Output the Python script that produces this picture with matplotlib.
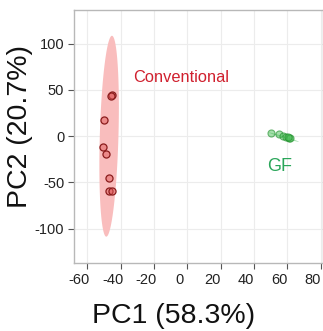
import numpy as np
import matplotlib
matplotlib.use("Agg")
import matplotlib.pyplot as plt
import matplotlib.transforms as mtransforms

plt.rcParams['font.family'] = ['Liberation Sans', 'DejaVu Sans']
plt.rcParams['axes.unicode_minus'] = False

# PCA scores
conv_x = [-45.0, -45.5, -49.8, -50.8, -49.0, -46.8, -46.8, -45.2]
conv_y = [45.0, 43.0, 18.0, -11.6, -19.0, -45.0, -59.0, -59.0]
gf_x = [50.0, 55.0, 57.5, 59.5, 60.8, 61.4, 60.2]
gf_y = [3.6, 2.5, 0.3, -0.4, -1.8, -1.4, -0.8]

# ellipses: two ends of the long axis and half width along x
conv_top = (-45.2, 108.7)
conv_bot = (-48.6, -108.7)
conv_hw = 5.6
gf_left = (49.0, 4.0)
gf_right = (67.0, -6.0)
gf_hh = 0.9  # half height along y

xlim = (-68, 81.5)
ylim = (-137, 137)
xticks = [-60, -40, -20, 0, 20, 40, 60, 80]
yticks = [-100, -50, 0, 50, 100]


def ellipse_xy(p1, p2, side):
    t = np.linspace(0, 2 * np.pi, 200)
    cx = (p1[0] + p2[0]) / 2
    cy = (p1[1] + p2[1]) / 2
    hx = (p1[0] - p2[0]) / 2
    hy = (p1[1] - p2[1]) / 2
    x = cx + hx * np.cos(t) + side[0] * np.sin(t)
    y = cy + hy * np.cos(t) + side[1] * np.sin(t)
    return x, y


fig = plt.figure(figsize=(3.23, 3.31), dpi=100)
ax = fig.add_axes([0.229, 0.206, 0.771, 0.765])

ex, ey = ellipse_xy(conv_top, conv_bot, (conv_hw, 0))
ax.fill(ex, ey, color='#f9bdbd', lw=0, zorder=1)
gx, gy = ellipse_xy(gf_left, gf_right, (0, gf_hh))
ax.fill(gx, gy, color='#a8dfb2', lw=0, zorder=1)

ax.scatter(conv_x, conv_y, s=26, facecolor=(0.88, 0.35, 0.35, 0.5),
           edgecolor='#8a1c1c', linewidth=0.9, zorder=3)
ax.scatter(gf_x, gf_y, s=26, facecolor=(0.3, 0.75, 0.35, 0.5),
           edgecolor=(0.1, 0.55, 0.15, 0.6), linewidth=0.8, zorder=3)

ax.text(-32.5, 63, 'Conventional', color='#d0202e', fontsize=11.8, ha='left', va='center')
ax.text(48, -33, 'GF', color='#2aa65a', fontsize=13, ha='left', va='center')

ax.set_xlim(*xlim)
ax.set_ylim(*ylim)
ax.set_xticks(xticks)
ax.set_yticks(yticks)
ax.grid(True, color='#ececec', linewidth=0.8)
ax.set_axisbelow(True)
for s in ax.spines.values():
    s.set_color('#b8b8b8')
    s.set_linewidth(1.0)
ax.tick_params(axis='both', labelsize=10.5, colors='#555555', labelcolor='#222222',
               length=4, width=0.8, pad=3)
shift = mtransforms.ScaledTranslation(-8 / 100, 0, fig.dpi_scale_trans)
for lab in ax.get_xticklabels():
    lab.set_transform(lab.get_transform() + shift)

ax.set_xlabel('PC1 (58.3%)', fontsize=20.5, color='#111111')
ax.set_ylabel('PC2 (20.7%)', fontsize=20.5, color='#111111')
ax.xaxis.set_label_coords(0.40, -0.16)
ax.yaxis.set_label_coords(-0.165, 0.54)

fig.savefig('out.png', dpi=100)
